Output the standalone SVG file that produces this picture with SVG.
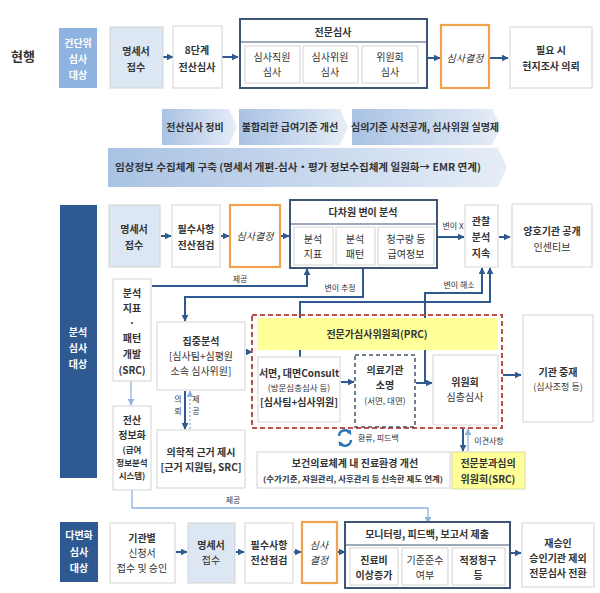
<svg xmlns="http://www.w3.org/2000/svg" width="600" height="593" viewBox="0 0 600 593">
<defs>
<style>
.bx{fill:#fff;stroke:#d3d3d3;stroke-width:1}
.lb{fill:#dde7f3;stroke:#d3d3d3;stroke-width:1}
.fr{fill:#fff;stroke:#3e5575;stroke-width:2}
.or{fill:#fff;stroke:#f0a24e;stroke-width:2.2}
.db{fill:#2f5a91}
.mb{fill:#8fb3e0}
.yl{fill:#ffff99;stroke:#d8d8a0;stroke-width:1}
.t{font-family:"Noto Sans CJK KR","Noto Sans",sans-serif;font-size:10px;fill:#333;text-anchor:middle;font-weight:bold}
.n{font-weight:normal}
.w{fill:#fff}
.it{font-style:italic;font-weight:normal}
.s{font-size:8px;font-weight:normal}
.st{text-anchor:start}
.c{stroke:#2e5a8f;stroke-width:2;fill:none}
.cl{stroke:#8db3e2;stroke-width:1.3;fill:none}
.ch{fill:url(#g)}
</style>
<linearGradient id="g" x1="0" y1="0" x2="1" y2="0">
<stop offset="0" stop-color="#a9c2e3"/>
<stop offset="1" stop-color="#e6edf7"/>
</linearGradient>
<marker id="a" viewBox="0 0 10 10" refX="9" refY="5" markerWidth="7" markerHeight="7" markerUnits="userSpaceOnUse" orient="auto"><path d="M0,0 L10,5 L0,10 z" fill="#2e5a8f"/></marker>
<marker id="al" viewBox="0 0 10 10" refX="9" refY="5" markerWidth="7" markerHeight="7" markerUnits="userSpaceOnUse" orient="auto"><path d="M0,0 L10,5 L0,10 z" fill="#8db3e2"/></marker>
<marker id="a2" viewBox="0 0 10 10" refX="5" refY="5" markerWidth="5" markerHeight="5" markerUnits="userSpaceOnUse" orient="auto"><path d="M0,0 L10,5 L0,10 z" fill="#2e75b6"/></marker>
</defs>
<rect width="600" height="593" fill="#fff"/>

<g id="connectors">
<line class="c" x1="163" y1="57" x2="173" y2="57" marker-end="url(#a)"/>
<line class="c" x1="222" y1="57" x2="238" y2="57" marker-end="url(#a)"/>
<line class="c" x1="428" y1="58" x2="440" y2="58" marker-end="url(#a)"/>
<line class="c" x1="490" y1="58" x2="508" y2="58" marker-end="url(#a)"/>
<line class="c" x1="161" y1="236" x2="171" y2="236" marker-end="url(#a)"/>
<line class="c" x1="221" y1="236" x2="229" y2="236" marker-end="url(#a)"/>
<line class="c" x1="281" y1="236" x2="289" y2="236" marker-end="url(#a)"/>
<line class="c" x1="438" y1="237" x2="464" y2="237" marker-end="url(#a)"/>
<line class="c" x1="499" y1="237" x2="510" y2="237" marker-end="url(#a)"/>
<polyline class="c" points="152,286 307,286 307,269" marker-end="url(#a)"/>
<polyline class="c" points="363,268 363,297 185,297 185,321" marker-end="url(#a)"/>
<polyline class="c" points="300,357 300,302 490,302 490,268" marker-end="url(#a)"/>
<polyline class="c" points="425,383 425,293 482,293 482,268" marker-end="url(#a)"/>
<line class="cl" x1="131" y1="381" x2="131" y2="405" marker-end="url(#al)"/>
<line class="c" x1="246" y1="352" x2="252" y2="352" marker-end="url(#a)"/>
<line class="c" x1="185" y1="391" x2="185" y2="429" marker-end="url(#a)"/>
<line class="cl" x1="190" y1="429" x2="190" y2="391" stroke-dasharray="2,2" marker-end="url(#al)"/>
<line class="c" x1="341" y1="382" x2="354" y2="382" marker-end="url(#a)"/>
<line class="c" x1="416" y1="383" x2="432" y2="383" marker-end="url(#a)"/>
<line class="c" x1="503" y1="375" x2="521" y2="375" marker-end="url(#a)"/>
<line class="c" x1="463" y1="429" x2="463" y2="451" marker-end="url(#a)"/>
<line class="cl" x1="468" y1="451" x2="468" y2="429" marker-end="url(#al)"/>
<path d="M339,436 A6,6 0 0 1 350,433" stroke="#2e75b6" stroke-width="2.4" fill="none" marker-end="url(#a2)"/>
<path d="M351,440 A6,6 0 0 1 340,443" stroke="#2e75b6" stroke-width="2.4" fill="none" marker-end="url(#a2)"/>
<polyline class="cl" points="132,490 132,508 428,508 428,523" marker-end="url(#al)"/>
<line class="c" x1="176" y1="552" x2="187" y2="552" marker-end="url(#a)"/>
<line class="c" x1="236" y1="552" x2="244" y2="552" marker-end="url(#a)"/>
<line class="c" x1="294" y1="552" x2="301" y2="552" marker-end="url(#a)"/>
<line class="c" x1="338" y1="552" x2="345" y2="552" marker-end="url(#a)"/>
<line class="c" x1="511" y1="553" x2="521" y2="553" marker-end="url(#a)"/>
<text class="t s" x="240" y="282">제공</text>
<text class="t s" x="340" y="291">변이 추정</text>
<text class="t s" x="453" y="229">변이 X</text>
<text class="t s" x="459" y="288">변이 해소</text>
<text class="t s" x="178" y="402">의</text>
<text class="t s" x="178" y="414">뢰</text>
<text class="t s" x="196" y="402">제</text>
<text class="t s" x="196" y="414">공</text>
<text class="t s st" x="358" y="441">환류, 피드백</text>
<text class="t s" x="489" y="444">이견사항</text>
<text class="t s" x="233" y="503">제공</text>
</g>

<text class="t" x="23" y="61" style="font-size:13px">현행</text>

<g id="cur-target"><rect class="mb" x="59" y="28" width="38" height="60"/>
<text class="t w"><tspan x="78" y="47">건단위</tspan><tspan x="78" y="63">심사</tspan><tspan x="78" y="79">대상</tspan></text></g>
<g id="cur-receipt"><rect class="lb" x="110" y="27" width="53" height="61"/>
<text class="t"><tspan x="136" y="55">명세서</tspan><tspan x="136" y="71">접수</tspan></text></g>
<g id="cur-8step"><rect class="bx" x="173" y="26" width="49" height="62"/>
<text class="t"><tspan x="197" y="54">8단계</tspan><tspan x="197" y="71">전산심사</tspan></text></g>
<g id="cur-expert"><rect class="fr" x="240" y="19" width="187" height="69"/>
<line x1="240" y1="42" x2="427" y2="42" stroke="#3e5575" stroke-width="1"/>
<text class="t" x="333" y="36">전문심사</text>
<rect class="bx" x="245" y="46" width="55" height="37"/>
<text class="t n"><tspan x="272" y="61">심사직원</tspan><tspan x="272" y="76">심사</tspan></text>
<rect class="bx" x="303" y="46" width="55" height="37"/>
<text class="t n"><tspan x="330" y="61">심사위원</tspan><tspan x="330" y="76">심사</tspan></text>
<rect class="bx" x="362" y="46" width="56" height="37"/>
<text class="t n"><tspan x="390" y="61">위원회</tspan><tspan x="390" y="76">심사</tspan></text></g>
<g id="cur-decision"><rect class="or" x="441" y="25" width="48" height="63"/>
<text class="t it" x="465" y="62">심사결정</text></g>
<g id="cur-onsite"><rect class="bx" x="510" y="27" width="82" height="61"/>
<text class="t"><tspan x="551" y="54">필요 시</tspan><tspan x="551" y="70">현지조사 의뢰</tspan></text></g>

<g id="banners">
<polygon class="ch" points="162,109 229,109 237,127 229,145 162,145"/>
<text class="t" x="195" y="131">전산심사 정비</text>
<polygon class="ch" points="239,109 340,109 348,127 340,145 239,145"/>
<text class="t" x="290" y="131">불합리한 급여기준 개선</text>
<polygon class="ch" points="352,109 492,109 501,127 492,145 352,145"/>
<text class="t" x="425" y="131">심의기준 사전공개, 심사위원 실명제</text>
<polygon class="ch" points="108,148 498,148 507,167 498,187 108,187"/>
<text class="t" x="298" y="171" textLength="366" lengthAdjust="spacingAndGlyphs">임상정보 수집체계 구축 (명세서 개편-심사・평가 정보수집체계 일원화→ EMR 연계)</text>
</g>

<g id="ana-target"><rect class="db" x="60" y="205" width="37" height="273"/>
<text class="t w"><tspan x="78" y="336">분석</tspan><tspan x="78" y="352">심사</tspan><tspan x="78" y="368">대상</tspan></text></g>
<g id="ana-receipt"><rect class="lb" x="109" y="205" width="51" height="62"/>
<text class="t"><tspan x="134" y="233">명세서</tspan><tspan x="134" y="249">접수</tspan></text></g>
<g id="ana-check"><rect class="bx" x="172" y="205" width="48" height="62"/>
<text class="t"><tspan x="196" y="233">필수사항</tspan><tspan x="196" y="249">전산점검</tspan></text></g>
<g id="ana-decision"><rect class="or" x="230" y="205" width="50" height="62"/>
<text class="t it" x="255" y="240">심사결정</text></g>
<g id="ana-variance"><rect class="fr" x="290" y="200" width="147" height="68"/>
<line x1="290" y1="224" x2="437" y2="224" stroke="#3e5575" stroke-width="1"/>
<text class="t" x="363" y="216">다차원 변이 분석</text>
<rect class="bx" x="294" y="227" width="39" height="38"/>
<text class="t n"><tspan x="313" y="243">분석</tspan><tspan x="313" y="258">지표</tspan></text>
<rect class="bx" x="336" y="227" width="39" height="38"/>
<text class="t n"><tspan x="355" y="243">분석</tspan><tspan x="355" y="258">패턴</tspan></text>
<rect class="bx" x="378" y="227" width="56" height="38"/>
<text class="t n"><tspan x="406" y="243">청구량 등</tspan><tspan x="406" y="258">급여정보</tspan></text></g>
<g id="ana-observe"><rect class="bx" x="465" y="205" width="33" height="62"/>
<text class="t"><tspan x="481" y="225">관찰</tspan><tspan x="481" y="241">분석</tspan><tspan x="481" y="257">지속</tspan></text></g>
<g id="ana-incentive"><rect class="bx" x="512" y="204" width="80" height="63"/>
<text class="t"><tspan x="552" y="235">양호기관 공개</tspan><tspan x="552" y="251" font-weight="normal">인센티브</tspan></text></g>
<g id="ana-index"><rect class="bx" x="113" y="279" width="38" height="102" stroke="#aaa"/>
<text class="t"><tspan x="132" y="297">분석</tspan><tspan x="132" y="312">지표</tspan><tspan x="132" y="327">·</tspan><tspan x="132" y="342">패턴</tspan><tspan x="132" y="358">개발</tspan><tspan x="132" y="374">(SRC)</tspan></text></g>
<g id="ana-system"><rect class="bx" x="113" y="406" width="38" height="84" stroke="#aaa"/>
<text class="t"><tspan x="132" y="424">전산</tspan><tspan x="132" y="439">정보화</tspan><tspan x="132" y="453" font-size="8.5">(급여</tspan><tspan x="132" y="466" font-size="8.5">정보분석</tspan><tspan x="132" y="479" font-size="8.5">시스템)</tspan></text></g>
<g id="ana-focus"><rect class="bx" x="157" y="322" width="88" height="68"/>
<text class="t"><tspan x="201" y="345">집중분석</tspan><tspan x="201" y="360" font-weight="normal">[심사팀+심평원</tspan><tspan x="201" y="375" font-weight="normal">소속 심사위원]</tspan></text></g>
<g id="ana-evidence"><rect class="bx" x="157" y="430" width="88" height="58"/>
<text class="t"><tspan x="201" y="456">의학적 근거 제시</tspan><tspan x="201" y="471">[근거 지원팀, SRC]</tspan></text></g>
<g id="prc">
<rect x="252" y="315" width="250" height="113" fill="none" stroke="#c0504d" stroke-width="2" stroke-dasharray="5,3"/>
<rect x="257" y="318" width="241" height="32" fill="#ffff99"/>
<text class="t" x="377" y="338">전문가심사위원회(PRC)</text>
<rect class="bx" x="258" y="357" width="82" height="65"/>
<text class="t"><tspan x="299" y="377">서면, 대면Consult</tspan><tspan x="299" y="391" font-size="8.5" font-weight="normal">(방문심층심사 등)</tspan><tspan x="299" y="406">[심사팀+심사위원]</tspan></text>
<rect x="355" y="355" width="60" height="72" fill="#fff" stroke="#44546a" stroke-width="1.5" stroke-dasharray="4,3"/>
<text class="t"><tspan x="385" y="374">의료기관</tspan><tspan x="385" y="389">소명</tspan><tspan x="385" y="404" font-size="8.5" font-weight="normal">(서면, 대면)</tspan></text>
<rect class="bx" x="433" y="355" width="65" height="70"/>
<text class="t"><tspan x="465" y="386">위원회</tspan><tspan x="465" y="401" font-weight="normal">심층심사</tspan></text>
</g>
<g id="ana-mediation"><rect class="bx" x="523" y="315" width="70" height="107"/>
<text class="t"><tspan x="558" y="376">기관 중재</tspan><tspan x="558" y="390" font-size="9" font-weight="normal">(심사조정 등)</tspan></text></g>
<g id="ana-health"><rect class="bx" x="257" y="452" width="193" height="36"/>
<text class="t"><tspan x="355" y="467">보건의료체계 내 진료환경 개선</tspan><tspan x="353" y="482" font-size="7.5" textLength="180" lengthAdjust="spacingAndGlyphs">(수가기준, 자원관리, 사후관리 등 신속한 제도 연계)</tspan></text></g>
<g id="ana-src"><rect class="yl" x="452" y="452" width="73" height="37"/>
<text class="t"><tspan x="488" y="467">전문분과심의</tspan><tspan x="488" y="483">위원회(SRC)</tspan></text></g>

<g id="div-target"><rect class="db" x="60" y="522" width="38" height="60"/>
<text class="t w"><tspan x="79" y="539">다변화</tspan><tspan x="79" y="556">심사</tspan><tspan x="79" y="572">대상</tspan></text></g>
<g id="div-apply"><rect class="bx" x="110" y="523" width="65" height="60"/>
<text class="t"><tspan x="142" y="542">기관별</tspan><tspan x="142" y="557" font-weight="normal">신청서</tspan><tspan x="142" y="572" font-weight="normal">접수 및 승인</tspan></text></g>
<g id="div-receipt"><rect class="lb" x="188" y="523" width="47" height="60"/>
<text class="t"><tspan x="211" y="549">명세서</tspan><tspan x="211" y="564" font-weight="normal">접수</tspan></text></g>
<g id="div-check"><rect class="bx" x="245" y="523" width="48" height="60"/>
<text class="t"><tspan x="269" y="549">필수사항</tspan><tspan x="269" y="564">전산점검</tspan></text></g>
<g id="div-decision"><rect class="or" x="302" y="522" width="35" height="61"/>
<text class="t it"><tspan x="319" y="549">심사</tspan><tspan x="319" y="564">결정</tspan></text></g>
<g id="div-monitor"><rect class="fr" x="345" y="522" width="165" height="66"/>
<line x1="345" y1="545" x2="510" y2="545" stroke="#3e5575" stroke-width="1"/>
<text class="t" x="427" y="538">모니터링, 피드백, 보고서 제출</text>
<rect class="bx" x="350" y="548" width="48" height="37"/>
<text class="t"><tspan x="374" y="564">진료비</tspan><tspan x="374" y="579">이상증가</tspan></text>
<rect class="bx" x="402" y="548" width="46" height="37"/>
<text class="t n"><tspan x="425" y="564">기준준수</tspan><tspan x="425" y="579">여부</tspan></text>
<rect class="bx" x="452" y="548" width="53" height="37"/>
<text class="t"><tspan x="478" y="564">적정청구</tspan><tspan x="478" y="579">등</tspan></text></g>
<g id="div-reapprove"><rect class="bx" x="522" y="523" width="72" height="64"/>
<text class="t"><tspan x="558" y="547">재승인</tspan><tspan x="558" y="562">승인기관 제외</tspan><tspan x="558" y="577">전문심사 전환</tspan></text></g>
</svg>
